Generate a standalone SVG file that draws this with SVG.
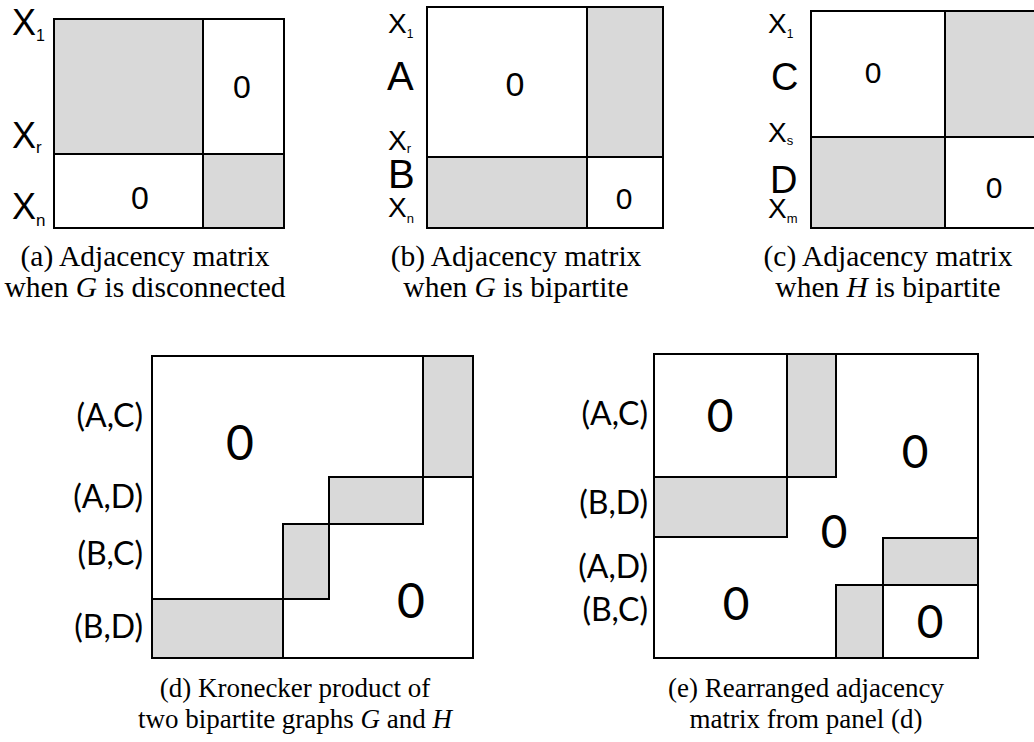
<svg xmlns="http://www.w3.org/2000/svg" width="1034" height="742" viewBox="0 0 1034 742">
<style>
.g{fill:#d9d9d9;stroke:#000;stroke-width:2}
.w{fill:#fff;stroke:#000;stroke-width:2}
.n{fill:none;stroke:#000;stroke-width:2}
.lx{font-family:"Liberation Sans",Arial,sans-serif;fill:#000}
.cl{font-family:Lato,"Liberation Sans",sans-serif;fill:#000}
.cap{font-family:"Liberation Serif","Times New Roman",serif;font-size:27px;fill:#000;text-anchor:middle}
.capt{font-size:29.5px}
.i{font-style:italic}
</style>
<rect width="1034" height="742" fill="#fff"/>

<g id="panel-a">
  <rect class="w" x="54" y="19" width="230" height="209"/>
  <rect class="g" x="54" y="19" width="149" height="135"/>
  <rect class="g" x="203" y="154" width="81" height="74"/>
  <text class="lx" x="242" y="98" font-size="32" text-anchor="middle">0</text>
  <text class="lx" x="140" y="209" font-size="32" text-anchor="middle">0</text>
  <text class="lx" x="12" y="35" font-size="36">X<tspan font-size="16" dy="6">1</tspan></text>
  <text class="lx" x="12" y="148" font-size="36">X<tspan font-size="17" dy="5">r</tspan></text>
  <text class="lx" x="12" y="219" font-size="36">X<tspan font-size="17" dy="7">n</tspan></text>
  <text class="cap capt" x="145" y="266">(a) Adjacency matrix</text>
  <text class="cap capt" x="145" y="297">when <tspan class="i">G</tspan> is disconnected</text>
</g>

<g id="panel-b">
  <rect class="w" x="427" y="7" width="236" height="221"/>
  <rect class="g" x="587" y="7" width="76" height="150"/>
  <rect class="g" x="427" y="157" width="160" height="71"/>
  <text class="lx" x="515" y="96" font-size="34" text-anchor="middle">0</text>
  <text class="lx" x="624" y="209" font-size="30" text-anchor="middle">0</text>
  <text class="lx" x="388" y="33" font-size="28">X<tspan font-size="12" dy="5">1</tspan></text>
  <text class="lx" x="387" y="90" font-size="40">A</text>
  <text class="lx" x="388" y="150" font-size="28">X<tspan font-size="13" dy="3">r</tspan></text>
  <text class="lx" x="388" y="188" font-size="40">B</text>
  <text class="lx" x="388" y="217" font-size="28">X<tspan font-size="13" dy="6">n</tspan></text>
  <text class="cap capt" x="516" y="266">(b) Adjacency matrix</text>
  <text class="cap capt" x="516" y="297">when <tspan class="i">G</tspan> is bipartite</text>
</g>

<g id="panel-c">
  <rect class="w" x="811" y="11" width="240" height="217"/>
  <rect class="g" x="945" y="11" width="106" height="126"/>
  <rect class="g" x="811" y="137" width="134" height="91"/>
  <text class="lx" x="873" y="83" font-size="30" text-anchor="middle">0</text>
  <text class="lx" x="994" y="198" font-size="30" text-anchor="middle">0</text>
  <text class="lx" x="768" y="33" font-size="28">X<tspan font-size="12" dy="5">1</tspan></text>
  <text class="lx" x="771" y="90" font-size="38">C</text>
  <text class="lx" x="768" y="142" font-size="28">X<tspan font-size="13" dy="3">s</tspan></text>
  <text class="lx" x="770" y="193" font-size="38">D</text>
  <text class="lx" x="768" y="218" font-size="28">X<tspan font-size="13" dy="5">m</tspan></text>
  <text class="cap capt" x="888" y="266">(c) Adjacency matrix</text>
  <text class="cap capt" x="888" y="297">when <tspan class="i">H</tspan> is bipartite</text>
</g>

<g id="panel-d">
  <rect class="w" x="152" y="356" width="321" height="302"/>
  <rect class="g" x="423" y="356" width="50" height="121"/>
  <rect class="g" x="329" y="477" width="94" height="47"/>
  <rect class="g" x="283" y="524" width="46" height="75"/>
  <rect class="g" x="152" y="599" width="131" height="59"/>
  <line class="n" x1="423" y1="477" x2="473" y2="477"/>
  <text class="cl" x="240" y="460" font-size="48" text-anchor="middle">0</text>
  <text class="cl" x="411" y="618" font-size="48" text-anchor="middle">0</text>
  <text class="cl" x="143" y="427" font-size="32" text-anchor="end">(A,C)</text>
  <text class="cl" x="143" y="508" font-size="32" text-anchor="end">(A,D)</text>
  <text class="cl" x="143" y="565" font-size="32" text-anchor="end">(B,C)</text>
  <text class="cl" x="143" y="638" font-size="32" text-anchor="end">(B,D)</text>
  <text class="cap" x="295" y="697">(d) Kronecker product of</text>
  <text class="cap" x="295" y="728">two bipartite graphs <tspan class="i">G</tspan> and <tspan class="i">H</tspan></text>
</g>

<g id="panel-e">
  <rect class="w" x="654" y="354" width="324" height="304"/>
  <rect class="w" x="654" y="354" width="133" height="123"/>
  <rect class="g" x="787" y="354" width="49" height="123"/>
  <rect class="g" x="654" y="477" width="133" height="60"/>
  <rect class="g" x="883" y="538" width="95" height="47"/>
  <rect class="g" x="836" y="585" width="47" height="73"/>
  <rect class="w" x="883" y="585" width="95" height="73"/>
  <text class="cl" x="720" y="432" font-size="46" text-anchor="middle">0</text>
  <text class="cl" x="915" y="468" font-size="46" text-anchor="middle">0</text>
  <text class="cl" x="834" y="548" font-size="46" text-anchor="middle">0</text>
  <text class="cl" x="736" y="620" font-size="46" text-anchor="middle">0</text>
  <text class="cl" x="930" y="638" font-size="46" text-anchor="middle">0</text>
  <text class="cl" x="648" y="425" font-size="32" text-anchor="end">(A,C)</text>
  <text class="cl" x="648" y="514" font-size="32" text-anchor="end">(B,D)</text>
  <text class="cl" x="648" y="578" font-size="32" text-anchor="end">(A,D)</text>
  <text class="cl" x="648" y="621" font-size="32" text-anchor="end">(B,C)</text>
  <text class="cap" x="806" y="697">(e) Rearranged adjacency</text>
  <text class="cap" x="806" y="728">matrix from panel (d)</text>
</g>
</svg>
